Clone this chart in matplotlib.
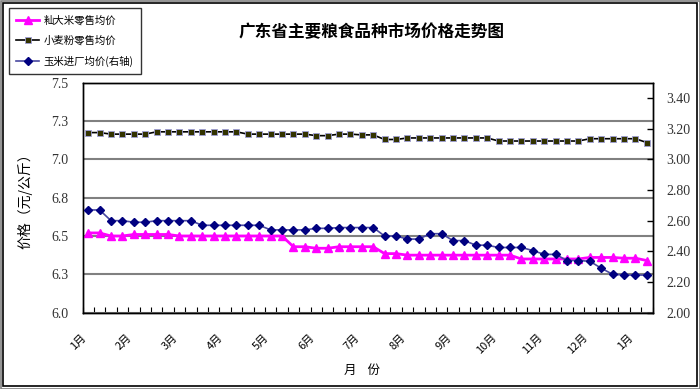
import matplotlib
matplotlib.use("Agg")
import matplotlib.pyplot as plt
from matplotlib.patches import Rectangle

plt.rcParams['font.family'] = ['Noto Sans CJK SC', 'DejaVu Sans']

# weekly prices, one point per week
months = ["1月", "2月", "3月", "4月", "5月", "6月", "7月",
          "8月", "9月", "10月", "11月", "12月", "1月"]

rice = [6.52, 6.52, 6.50, 6.50, 6.51, 6.51, 6.51, 6.51, 6.50, 6.50,
        6.50, 6.50, 6.50, 6.50, 6.50, 6.50, 6.50, 6.50, 6.43, 6.43,
        6.42, 6.42, 6.43, 6.43, 6.43, 6.43, 6.385, 6.385, 6.375, 6.375,
        6.375, 6.375, 6.375, 6.375, 6.375, 6.375, 6.375, 6.375, 6.35, 6.35,
        6.35, 6.35, 6.35, 6.35, 6.36, 6.36, 6.36, 6.355, 6.355, 6.34]

wheat = [7.175, 7.175, 7.165, 7.165, 7.165, 7.165, 7.18, 7.18, 7.18, 7.18,
         7.18, 7.18, 7.18, 7.18, 7.165, 7.165, 7.165, 7.165, 7.165, 7.165,
         7.155, 7.155, 7.165, 7.165, 7.16, 7.16, 7.13, 7.13, 7.14, 7.14,
         7.14, 7.14, 7.14, 7.14, 7.14, 7.14, 7.12, 7.12, 7.12, 7.12,
         7.12, 7.12, 7.12, 7.12, 7.135, 7.135, 7.135, 7.135, 7.135, 7.11]

corn = [2.67, 2.67, 2.60, 2.60, 2.59, 2.59, 2.60, 2.60, 2.60, 2.60,
        2.57, 2.57, 2.57, 2.57, 2.57, 2.57, 2.54, 2.54, 2.54, 2.54,
        2.55, 2.55, 2.555, 2.555, 2.555, 2.555, 2.50, 2.50, 2.48, 2.48,
        2.515, 2.515, 2.47, 2.47, 2.44, 2.44, 2.425, 2.425, 2.425, 2.405,
        2.38, 2.38, 2.34, 2.34, 2.335, 2.29, 2.25, 2.245, 2.245, 2.245]

left_ticks = [6.0, 6.25, 6.5, 6.75, 7.0, 7.25, 7.5]
left_labels = ["6.0", "6.3", "6.5", "6.8", "7.0", "7.3", "7.5"]
right_ticks = [2.0, 2.2, 2.4, 2.6, 2.8, 3.0, 3.2, 3.4]

W, H = 700, 389
fig = plt.figure(figsize=(7, 3.89), dpi=100)
ax = fig.add_axes([82.5 / W, 1 - 312.6 / H, 570 / W, (312.6 - 82.8) / H])
ax2 = ax.twinx()

x = list(range(len(rice)))
n = len(x)

ax.plot(x, wheat, color="black", lw=1.2, marker="s", ms=4,
        mfc="#333300", mec="#a0a0d8", mew=0.6, label="小麦粉零售均价", zorder=3)
ax.plot(x, rice, color="#ff00ff", lw=2.0, marker="^", ms=5.5,
        mfc="#ff00ff", mec="#ff00ff", label="籼大米零售均价", zorder=3)
ax2.plot(x, corn, color="#4848a0", lw=1.2, marker="D", ms=4,
         mfc="#000080", mec="#000080", label="玉米进厂均价(右轴)", zorder=3)

ax.set_xlim(-0.5, n - 0.5)
ax.set_ylim(6.0, 7.5)
ax2.set_ylim(2.0, 3.5)

num_font = dict(family=["Liberation Serif", "DejaVu Serif"], size=10, color="#333333")

ax.set_yticks(left_ticks)
ax.set_yticklabels(left_labels, **num_font)
ax.tick_params(axis="y", direction="in", length=0, pad=10)
ax.grid(axis="y", color="#808080", lw=1.5)
ax.set_axisbelow(True)

ax2.set_yticks(right_ticks)
ax2.set_yticklabels([f"{v:.2f}" for v in right_ticks], **num_font)
ax2.tick_params(axis="y", direction="in", length=4, width=1, pad=10)

month_pos = list(range(0, n, 4))
ax.set_xticks(month_pos)
ax.set_xticklabels(months, rotation=45, ha="right", va="top", fontsize=8)
ax.tick_params(axis="x", length=0, pad=14)
ax.set_xticks([i - 0.5 for i in range(n + 1)], minor=True)
ax.tick_params(axis="x", which="minor", direction="in", length=4, width=0.8)

for a in (ax, ax2):
    for s in a.spines.values():
        s.set_color("black")
        s.set_linewidth(1.0)

ax.set_ylabel("价格（元/公斤）", fontsize=10, labelpad=14)
fig.text(362 / W, 1 - 370 / H, "月    份", ha="center", va="center", fontsize=9)
fig.text(372 / W, 1 - 32 / H, "广东省主要粮食品种市场价格走势图",
         ha="center", va="center", fontsize=12, fontweight="bold")

h1, l1 = ax.get_legend_handles_labels()
h2, l2 = ax2.get_legend_handles_labels()
handles = [h1[1], h1[0], h2[0]]
labels = [l1[1], l1[0], l2[0]]
leg = fig.legend(handles, labels, loc="upper left",
                 bbox_to_anchor=(9 / W, 1 - 8 / H), borderaxespad=0,
                 fontsize=7.5, frameon=True, fancybox=False,
                 handlelength=2.2, handletextpad=0.4, labelspacing=0.95,
                 borderpad=0.7)
leg.get_frame().set_edgecolor("black")
leg.get_frame().set_linewidth(1.0)

# double border round the chart area
fig.patches.append(Rectangle((0.5 / W, 0.5 / H), 1 - 1 / W, 1 - 1 / H,
                             transform=fig.transFigure, fill=False,
                             ec="#808080", lw=1.2))
fig.patches.append(Rectangle((3 / W, 3 / H), 1 - 6 / W, 1 - 6 / H,
                             transform=fig.transFigure, fill=False,
                             ec="black", lw=1.2))

fig.savefig("out.png", dpi=100)
